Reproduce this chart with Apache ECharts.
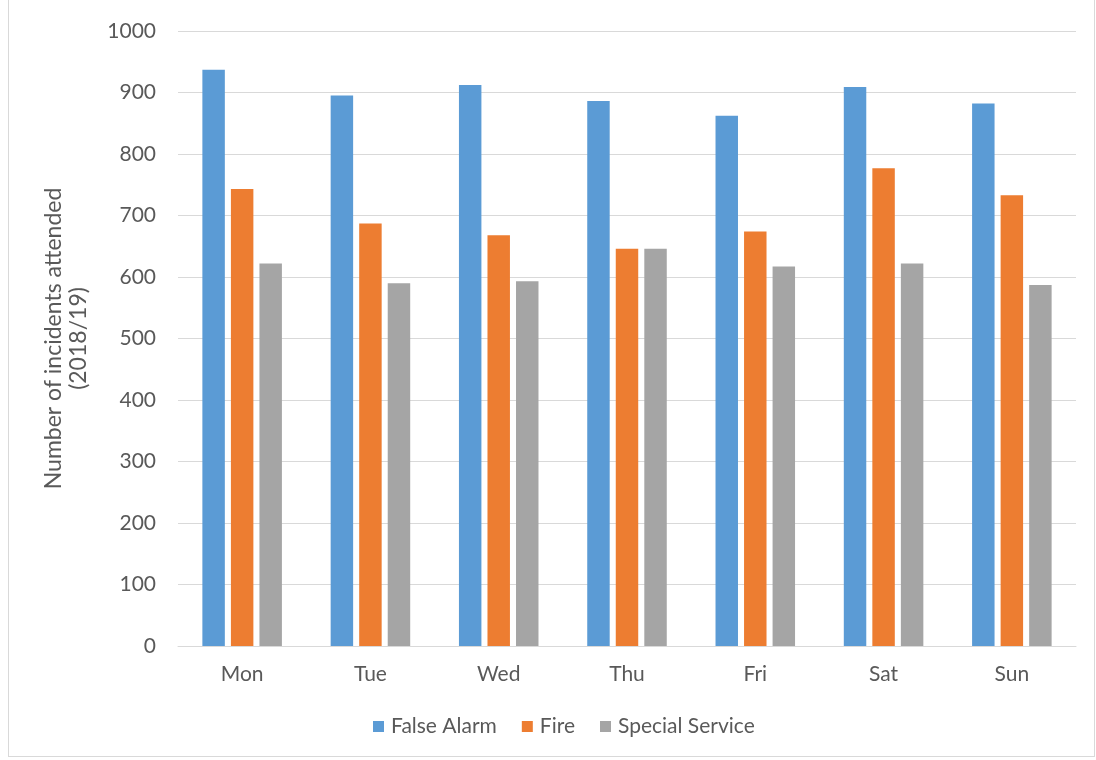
<!DOCTYPE html>
<html>
<head>
<meta charset="utf-8">
<script src="https://cdn.jsdelivr.net/npm/echarts@6/dist/echarts.min.js"></script>
<style>
  html, body { margin: 0; padding: 0; background: #fff; }
  #frame { position: absolute; left: 8px; top: -1px; width: 1087px; height: 758px; border: 1px solid #d9d9d9; box-sizing: border-box; }
  #chart { width: 1096px; height: 760px; }
</style>
</head>
<body>
<div id="frame"></div>
<div id="chart"></div>
<script>
// Incidents attended by day of week, 2018/19
const days = ['Mon', 'Tue', 'Wed', 'Thu', 'Fri', 'Sat', 'Sun'];
const falseAlarm = [937, 895, 912, 886, 862, 909, 882];
const fire = [743, 687, 668, 646, 674, 777, 733];
const specialService = [622, 590, 593, 646, 617, 622, 587];
const yTicks = { min: 0, max: 1000, interval: 100 };

const textColor = '#595959';
const font = 'Lato, Open Sans, sans-serif';

const chart = echarts.init(document.getElementById('chart'), null, { renderer: 'canvas' });

function barSeries(name, data, color) {
  return {
    name: name,
    type: 'bar',
    data: data,
    barGap: '27%',
    barCategoryGap: '38%',
    itemStyle: { color: color },
    emphasis: { disabled: true }
  };
}

chart.setOption({
  animation: false,
  textStyle: { fontFamily: font, color: textColor },
  grid: { left: 178, right: 20, top: 31, bottom: 114 },
  xAxis: {
    type: 'category',
    data: days,
    axisLine: { lineStyle: { color: '#d9d9d9', width: 1 } },
    axisTick: { show: false },
    axisLabel: { color: textColor, fontSize: 21, margin: 18, fontFamily: font }
  },
  yAxis: {
    type: 'value',
    min: yTicks.min,
    max: yTicks.max,
    interval: yTicks.interval,
    name: 'Number of incidents attended\n(2018/19)',
    nameLocation: 'middle',
    nameGap: 87,
    nameRotate: 90,
    nameTextStyle: { color: textColor, fontSize: 23, lineHeight: 25, fontFamily: font },
    axisLine: { show: false },
    axisTick: { show: false },
    axisLabel: {
      color: textColor, fontSize: 21, margin: 22, fontFamily: font,
      formatter: function (v) { return String(v); }
    },
    splitLine: { lineStyle: { color: '#d9d9d9', width: 1 } }
  },
  legend: {
    bottom: 18,
    left: 368,
    itemWidth: 11,
    itemHeight: 11,
    itemGap: 25,
    icon: 'rect',
    textStyle: { color: textColor, fontSize: 21, fontFamily: font, padding: [0, 0, 0, 2] },
    data: ['False Alarm', 'Fire', 'Special Service']
  },
  series: [
    barSeries('False Alarm', falseAlarm, '#5b9bd5'),
    barSeries('Fire', fire, '#ed7d31'),
    barSeries('Special Service', specialService, '#a5a5a5')
  ]
});
</script>
</body>
</html>
